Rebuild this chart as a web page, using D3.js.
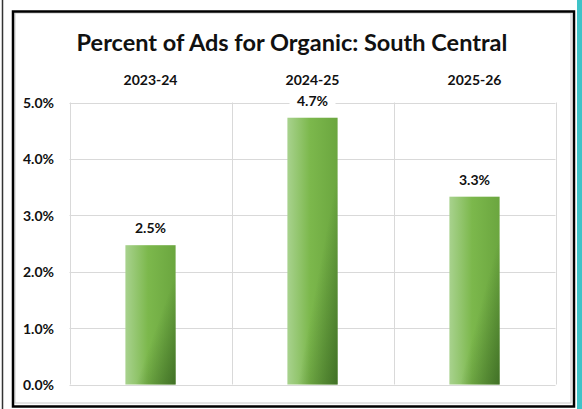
<!DOCTYPE html>
<html>
<head>
<meta charset="utf-8">
<script src="https://cdn.jsdelivr.net/npm/d3@7"></script>
<style>
  body { margin: 0; background: #fff; }
  svg { display: block; font-family: Lato, "Open Sans", sans-serif; }
  .tick text { font-weight: bold; fill: #111; }
</style>
</head>
<body>
<script>
//chart data
var categories = ["2023-24", "2024-25", "2025-26"];
var values = [0.0247, 0.0473, 0.0333];
var valueLabels = ["2.5%", "4.7%", "3.3%"];
var yTicks = [0, 0.01, 0.02, 0.03, 0.04, 0.05];
var titleText = "Percent of Ads for Organic: South Central";

//frame dimensions
var width = 582,
    height = 409,
    plotLeft = 69.5,
    plotRight = 555.5,
    plotTop = 102.5,
    plotBottom = 384.5;

var svg = d3.select("body")
    .append("svg")
    .attr("width", width)
    .attr("height", height);

//gradients for the bars
var defs = svg.append("defs");
var baseGrad = defs.append("linearGradient")
    .attr("id", "barBase")
    .attr("x1", 0).attr("y1", 0).attr("x2", 1).attr("y2", 0);
baseGrad.append("stop").attr("offset", "0%").attr("stop-color", "#a8d28e");
baseGrad.append("stop").attr("offset", "45%").attr("stop-color", "#7cb84c");
baseGrad.append("stop").attr("offset", "100%").attr("stop-color", "#6ba63f");

var shadeGrad = defs.append("linearGradient")
    .attr("id", "barShade")
    .attr("x1", 0).attr("y1", 0).attr("x2", 1).attr("y2", 1);
shadeGrad.append("stop").attr("offset", "0%").attr("stop-color", "#2f5a1c").attr("stop-opacity", 0);
shadeGrad.append("stop").attr("offset", "60%").attr("stop-color", "#2f5a1c").attr("stop-opacity", 0);
shadeGrad.append("stop").attr("offset", "100%").attr("stop-color", "#2f5a1c").attr("stop-opacity", 0.7);

//decorations around the frame
svg.append("line")
    .attr("x1", 2.5).attr("x2", 2.5)
    .attr("y1", 0).attr("y2", height)
    .attr("stroke", "#333")
    .attr("stroke-width", 1.5);

svg.append("rect")
    .attr("x", 577).attr("y", 0)
    .attr("width", 5).attr("height", height)
    .attr("fill", "#3ec3c8");

svg.append("rect")
    .attr("x", 15).attr("y", 13)
    .attr("width", 556).attr("height", 390)
    .attr("fill", "#fff")
    .attr("stroke", "#c8c8c8")
    .attr("stroke-width", 1);

svg.append("rect")
    .attr("x", 13).attr("y", 11.5)
    .attr("width", 561).attr("height", 395)
    .attr("fill", "none")
    .attr("stroke", "#000")
    .attr("stroke-width", 2.5);

//scales
var x = d3.scaleBand()
    .domain(categories)
    .range([plotLeft, plotRight])
    .padding(0);

var y = d3.scaleLinear()
    .domain([0, 0.05])
    .range([plotBottom, plotTop]);

var barWidth = x.bandwidth() * 0.31;

//horizontal gridlines
svg.selectAll(".hgrid")
    .data(yTicks)
    .enter()
    .append("line")
    .attr("class", "hgrid")
    .attr("x1", plotLeft).attr("x2", plotRight)
    .attr("y1", function(d){ return Math.round(y(d)) + 0.5; })
    .attr("y2", function(d){ return Math.round(y(d)) + 0.5; })
    .attr("stroke", "#d9d9d9");

//vertical gridlines at category boundaries
var bounds = categories.map(function(d){ return x(d); }).concat([plotRight]);
svg.selectAll(".vgrid")
    .data(bounds)
    .enter()
    .append("line")
    .attr("class", "vgrid")
    .attr("x1", function(d){ return Math.round(d) + 0.5; })
    .attr("x2", function(d){ return Math.round(d) + 0.5; })
    .attr("y1", plotTop).attr("y2", plotBottom)
    .attr("stroke", "#d9d9d9");

//y axis
var yAxis = svg.append("g")
    .attr("transform", "translate(54,0)")
    .call(d3.axisLeft(y)
        .tickValues(yTicks)
        .tickSize(0)
        .tickPadding(0)
        .tickFormat(d3.format(".1%")));
yAxis.attr("font-family", null);
yAxis.select(".domain").remove();
yAxis.selectAll("text")
    .attr("font-size", 14)
    .attr("dy", "0.35em");

//category axis on top
var xAxis = svg.append("g")
    .attr("transform", "translate(0,85)")
    .call(d3.axisTop(x).tickSize(0).tickPadding(0));
xAxis.attr("font-family", null);
xAxis.select(".domain").remove();
xAxis.selectAll("text")
    .attr("font-size", 14);

//bars
var bars = svg.selectAll(".bar")
    .data(values)
    .enter()
    .append("g")
    .attr("class", "bar");

bars.append("rect")
    .attr("x", function(d, i){ return x(categories[i]) + (x.bandwidth() - barWidth) / 2; })
    .attr("y", function(d){ return y(d); })
    .attr("width", barWidth)
    .attr("height", function(d){ return plotBottom - y(d); })
    .attr("fill", "url(#barBase)");

bars.append("rect")
    .attr("x", function(d, i){ return x(categories[i]) + (x.bandwidth() - barWidth) / 2; })
    .attr("y", function(d){ return y(d); })
    .attr("width", barWidth)
    .attr("height", function(d){ return plotBottom - y(d); })
    .attr("fill", "url(#barShade)");

//value labels with white background
var labels = svg.selectAll(".valueLabel")
    .data(values)
    .enter()
    .append("g")
    .attr("class", "valueLabel")
    .attr("transform", function(d, i){
        return "translate(" + (x(categories[i]) + x.bandwidth() / 2) + "," + (y(d) - 12) + ")";
    });

labels.append("rect")
    .attr("x", -23).attr("y", -14)
    .attr("width", 46).attr("height", 18)
    .attr("fill", "#fff");

labels.append("text")
    .attr("text-anchor", "middle")
    .attr("font-size", 14)
    .attr("font-weight", "bold")
    .attr("fill", "#111")
    .text(function(d, i){ return valueLabels[i]; });

//chart title
svg.append("text")
    .attr("x", 292)
    .attr("y", 51)
    .attr("text-anchor", "middle")
    .attr("font-size", 23.5)
    .attr("font-weight", "bold")
    .attr("fill", "#111")
    .text(titleText);
</script>
</body>
</html>
